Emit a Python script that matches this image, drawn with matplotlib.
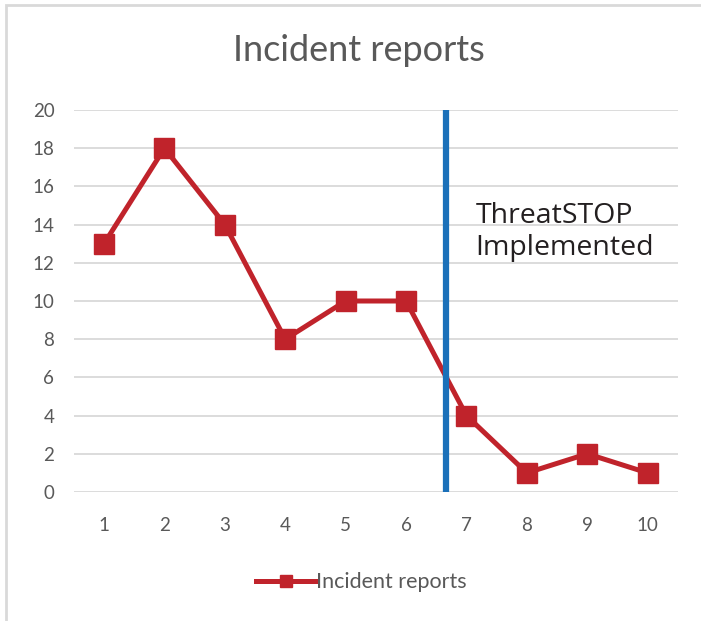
import matplotlib
matplotlib.use("Agg")
import matplotlib.pyplot as plt
from matplotlib.patches import Rectangle

periods = [1, 2, 3, 4, 5, 6, 7, 8, 9, 10]
reports = [13, 18, 14, 8, 10, 10, 4, 1, 2, 1]
implemented_at = 6.66
y_ticks = [0, 2, 4, 6, 8, 10, 12, 14, 16, 18, 20]

plt.rcParams["font.family"] = ["Lato", "DejaVu Sans"]

fig = plt.figure(figsize=(7.01, 6.21), dpi=100)
ax = fig.add_axes([0.1053, 0.2077, 0.8617, 0.6152])

ax.plot(periods, reports, color="#C0232B", lw=3.6, marker="s", ms=15,
        label="Incident reports", zorder=3)
ax.axvline(implemented_at, color="#1B70B9", lw=4.5, zorder=4)
ax.text(7.15, 13.6, "ThreatSTOP\nImplemented", fontsize=20.5, color="#231F20",
        family=["Open Sans", "DejaVu Sans"], linespacing=1.2, va="center")

ax.set_xlim(0.5, 10.5)
ax.set_ylim(0, 20)
ax.set_xticks(periods)
ax.set_yticks(y_ticks)
ax.grid(axis="y", color="#D9D9D9", lw=1.3)
ax.set_axisbelow(True)
for s in ax.spines.values():
    s.set_visible(False)
ax.tick_params(length=0, colors="#595959", labelsize=13.5)
ax.tick_params(axis="x", pad=18)
ax.tick_params(axis="y", pad=14)

fig.text(0.512, 0.918, "Incident reports", ha="center", va="center",
         fontsize=26, color="#595959")

leg = fig.legend(loc="center", bbox_to_anchor=(0.515, 0.062), frameon=False,
                 fontsize=15.5, handlelength=2.8, handletextpad=0.0, markerscale=0.6)
for t in leg.get_texts():
    t.set_color("#595959")

fig.add_artist(Rectangle((0.009, -0.01), 1.0, 1.002, transform=fig.transFigure,
                         fill=False, ec="#D9D9D9", lw=2))

fig.savefig("out.png", dpi=100)
